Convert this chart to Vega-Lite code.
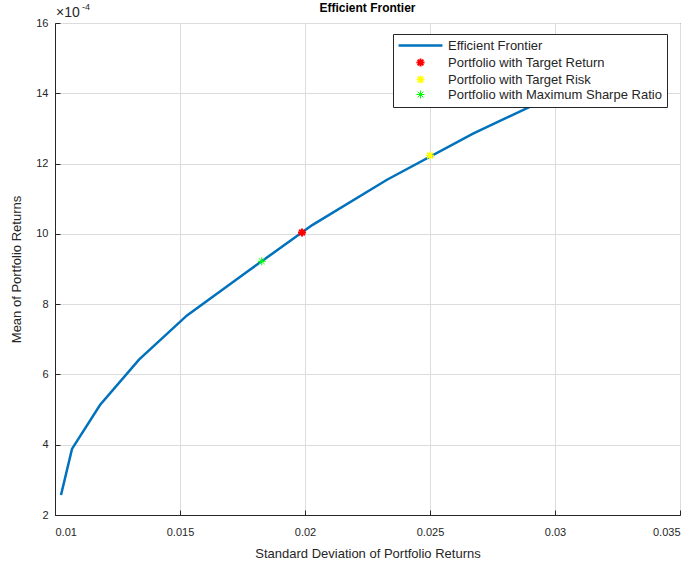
{
  "$schema": "https://vega.github.io/schema/vega-lite/v6.json",
  "autosize": "none",
  "padding": {"left": 55, "top": 23, "right": 16, "bottom": 52},
  "width": 625,
  "height": 492,
  "background": "white",
  "title": {"text": "Efficient Frontier", "fontSize": 12, "fontWeight": "bold", "font": "Liberation Sans", "color": "#000000", "anchor": "middle", "offset": -12},
  "config": {
    "view": {"stroke": "#262626", "strokeWidth": 1},
    "font": "Liberation Sans",
    "axis": {
      "domainColor": "#262626",
      "tickColor": "#262626",
      "gridColor": "#dcdcdc",
      "gridOpacity": 1,
      "labelColor": "#262626",
      "titleColor": "#262626",
      "labelFontSize": 11,
      "titleFontSize": 13,
      "titleFontWeight": "normal",
      "labelFont": "Liberation Sans",
      "titleFont": "Liberation Sans",
      "tickSize": -5
    },
    "legend": {"title": null, "orient": "none", "legendX": 338, "legendY": 11, "fillColor": "white", "strokeColor": "#262626", "padding": 5, "labelFontSize": 13, "labelColor": "#262626", "labelFont": "Liberation Sans", "labelLimit": 400, "rowPadding": 1, "symbolSize": 80, "symbolOffset": 16, "symbolOpacity": 1, "labelOffset": 21, "zindex": 2}
  },
  "data": {
    "values": [
      {"sd": 0.01024, "mean": 0.000257, "series": "Efficient Frontier"},
      {"sd": 0.01068, "mean": 0.000388, "series": "Efficient Frontier"},
      {"sd": 0.01180, "mean": 0.000513, "series": "Efficient Frontier"},
      {"sd": 0.01336, "mean": 0.000642, "series": "Efficient Frontier"},
      {"sd": 0.01528, "mean": 0.000768, "series": "Efficient Frontier"},
      {"sd": 0.01774, "mean": 0.000895, "series": "Efficient Frontier"},
      {"sd": 0.02029, "mean": 0.001025, "series": "Efficient Frontier"},
      {"sd": 0.02328, "mean": 0.001154, "series": "Efficient Frontier"},
      {"sd": 0.02672, "mean": 0.001285, "series": "Efficient Frontier"},
      {"sd": 0.03050, "mean": 0.001412, "series": "Efficient Frontier"},
      {"sd": 0.01988, "mean": 0.001004, "series": "Portfolio with Target Return"},
      {"sd": 0.02500, "mean": 0.001223, "series": "Portfolio with Target Risk"},
      {"sd": 0.01827, "mean": 0.000922, "series": "Portfolio with Maximum Sharpe Ratio"}
    ]
  },
  "layer": [
    {
      "transform": [{"filter": "datum.series === 'Efficient Frontier'"}],
      "mark": {"type": "line", "clip": true},
      "encoding": {
        "x": {"field": "sd", "type": "quantitative", "scale": {"domain": [0.01, 0.035], "nice": false, "zero": false},
          "axis": {"title": "Standard Deviation of Portfolio Returns", "values": [0.01, 0.015, 0.02, 0.025, 0.03, 0.035], "format": ".3~f", "labelPadding": 16, "titlePadding": 10}},
        "y": {"field": "mean", "type": "quantitative", "scale": {"domain": [0.0002, 0.0016], "nice": false, "zero": false},
          "axis": {"title": "Mean of Portfolio Returns", "values": [0.0002, 0.0004, 0.0006, 0.0008, 0.001, 0.0012, 0.0014, 0.0016], "labelExpr": "format(datum.value * 10000, 'd')", "labelPadding": 12, "titlePadding": 12}},
        "color": {"field": "series", "type": "nominal",
          "scale": {"domain": ["Efficient Frontier", "Portfolio with Target Return", "Portfolio with Target Risk", "Portfolio with Maximum Sharpe Ratio"], "range": ["#0072BD", "#ff0000", "#ffff00", "#00ff00"]}},
        "strokeWidth": {"field": "series", "type": "nominal",
          "scale": {"domain": ["Efficient Frontier", "Portfolio with Target Return", "Portfolio with Target Risk", "Portfolio with Maximum Sharpe Ratio"], "range": [2.5, 1, 1, 1]}},
        "order": {"field": "sd", "type": "quantitative"}
      }
    },
    {
      "transform": [{"filter": "datum.series !== 'Efficient Frontier'"}],
      "mark": {"type": "point", "filled": false, "size": 80, "opacity": 1},
      "encoding": {
        "x": {"field": "sd", "type": "quantitative"},
        "y": {"field": "mean", "type": "quantitative"},
        "color": {"field": "series", "type": "nominal",
          "scale": {"domain": ["Efficient Frontier", "Portfolio with Target Return", "Portfolio with Target Risk", "Portfolio with Maximum Sharpe Ratio"], "range": ["#0072BD", "#ff0000", "#ffff00", "#00ff00"]}},
        "strokeWidth": {"field": "series", "type": "nominal",
          "scale": {"domain": ["Efficient Frontier", "Portfolio with Target Return", "Portfolio with Target Risk", "Portfolio with Maximum Sharpe Ratio"], "range": [2.5, 1, 1, 1]}},
        "shape": {"field": "series", "type": "nominal",
          "scale": {"domain": ["Efficient Frontier", "Portfolio with Target Return", "Portfolio with Target Risk", "Portfolio with Maximum Sharpe Ratio"],
            "range": ["M-4.9,0L4.9,0", "M-0.9,0L0.9,0M0,-0.9L0,0.9M-0.64,-0.64L0.64,0.64M-0.64,0.64L0.64,-0.64", "M-0.9,0L0.9,0M0,-0.9L0,0.9M-0.64,-0.64L0.64,0.64M-0.64,0.64L0.64,-0.64", "M-0.9,0L0.9,0M0,-0.9L0,0.9M-0.64,-0.64L0.64,0.64M-0.64,0.64L0.64,-0.64"]}}
      }
    },
    {
      "data": {"values": [{"sd": 0.01, "mean": 0.0016, "label": "×10"}]},
      "mark": {"type": "text", "align": "left", "baseline": "alphabetic", "dx": 1, "dy": -6, "fontSize": 14, "color": "#262626", "font": "Liberation Sans"},
      "encoding": {
        "x": {"field": "sd", "type": "quantitative"},
        "y": {"field": "mean", "type": "quantitative"},
        "text": {"field": "label"}
      }
    },
    {
      "data": {"values": [{"sd": 0.01, "mean": 0.0016, "label": "-4"}]},
      "mark": {"type": "text", "align": "left", "baseline": "alphabetic", "dx": 27, "dy": -13, "fontSize": 9, "color": "#262626", "font": "Liberation Sans"},
      "encoding": {
        "x": {"field": "sd", "type": "quantitative"},
        "y": {"field": "mean", "type": "quantitative"},
        "text": {"field": "label"}
      }
    }
  ]
}
